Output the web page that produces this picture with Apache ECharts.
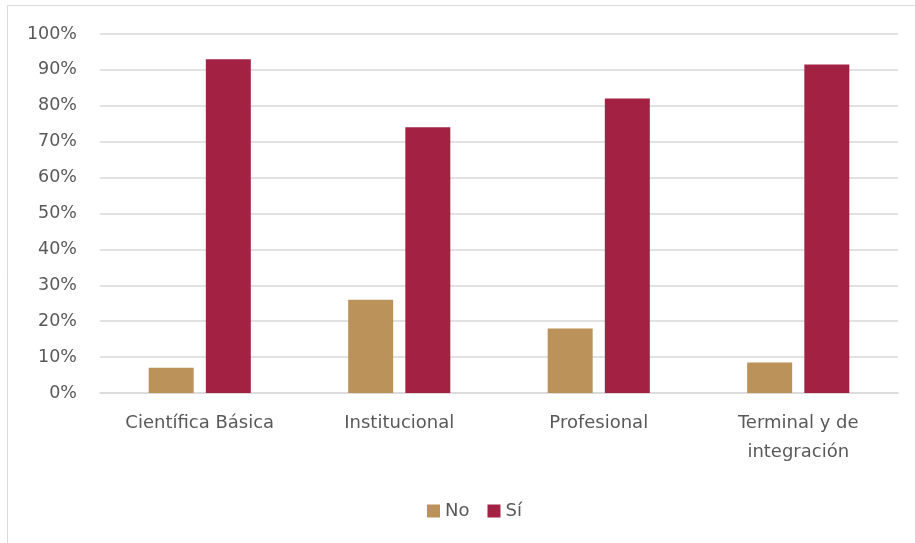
<!DOCTYPE html>
<html>
<head>
<meta charset="utf-8">
<script src="https://cdn.jsdelivr.net/npm/echarts@6/dist/echarts.min.js"></script>
<style>
  html, body { margin: 0; padding: 0; background: #ffffff; }
  #chart { width: 915px; height: 543px; }
</style>
</head>
<body>
<div id="chart"></div>
<script>
// Categories of the training area
const categories = ['Científica Básica', 'Institucional', 'Profesional', 'Terminal y de\nintegración'];
// Share of answers per category (percent)
const noValues = [7, 26, 18, 8.5];
const siValues = [93, 74, 82, 91.5];
// Series names
const seriesNames = ['No', 'Sí'];

const textColor = '#595959';
const gridColor = '#d9d9d9';
const fontFamily = '"DejaVu Sans", sans-serif';

const chart = echarts.init(document.getElementById('chart'), null, { renderer: 'canvas' });

chart.setOption({
  animation: false,
  backgroundColor: '#ffffff',
  textStyle: { fontFamily: fontFamily },
  graphic: [
    { type: 'line', silent: true, shape: { x1: 7.5, y1: 5.5, x2: 915, y2: 5.5 }, style: { stroke: gridColor, lineWidth: 1 } },
    { type: 'line', silent: true, shape: { x1: 7.5, y1: 5.5, x2: 7.5, y2: 543 }, style: { stroke: gridColor, lineWidth: 1 } }
  ],
  grid: { left: 100, right: 17, top: 34, bottom: 150, containLabel: false },
  legend: {
    data: seriesNames,
    top: 497,
    left: 422,
    itemWidth: 13,
    itemHeight: 13,
    itemGap: 18,
    icon: 'rect',
    textStyle: { color: textColor, fontSize: 18, fontFamily: fontFamily }
  },
  xAxis: {
    type: 'category',
    data: categories,
    axisLine: { show: true, lineStyle: { color: gridColor, width: 1.5 } },
    axisTick: { show: false },
    axisLabel: {
      color: textColor,
      fontSize: 18,
      fontFamily: fontFamily,
      margin: 16,
      lineHeight: 29,
      interval: 0
    }
  },
  yAxis: {
    type: 'value',
    min: 0,
    max: 100,
    interval: 10,
    axisLine: { show: false },
    axisTick: { show: false },
    splitLine: { lineStyle: { color: gridColor, width: 1.5 } },
    axisLabel: {
      color: textColor,
      fontSize: 17.5,
      fontFamily: fontFamily,
      margin: 23,
      formatter: '{value}%'
    }
  },
  series: [
    {
      name: seriesNames[0],
      type: 'bar',
      data: noValues,
      barWidth: 45,
      barGap: '27%',
      itemStyle: { color: '#BC925B' }
    },
    {
      name: seriesNames[1],
      type: 'bar',
      data: siValues,
      barWidth: 45,
      barGap: '27%',
      itemStyle: { color: '#A32244' }
    }
  ]
});
</script>
</body>
</html>
